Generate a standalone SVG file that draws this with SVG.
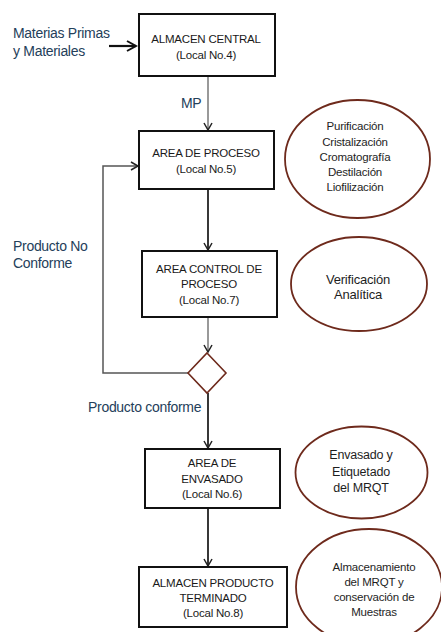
<svg xmlns="http://www.w3.org/2000/svg" width="441" height="632" viewBox="0 0 441 632">
<style>
text{font-family:"Liberation Sans",Arial,sans-serif;}
.box{fill:#fff;stroke:#111;stroke-width:2;}
.bt{font-size:11.5px;fill:#1a1a1a;text-anchor:middle;letter-spacing:-0.2px;}
.ell{fill:#fff;stroke:#6e2a1c;stroke-width:1.8;}
.et{font-size:11.5px;fill:#1e1e1e;text-anchor:middle;letter-spacing:-0.2px;}
.lbl{font-size:14px;fill:#24405a;letter-spacing:-0.3px;}
.cg{fill:none;stroke:#777;stroke-width:1.5;}
.cb{fill:none;stroke:#222;stroke-width:1.8;}
</style>
<defs>
<marker id="ah" markerWidth="10" markerHeight="10" refX="8" refY="5" orient="auto" markerUnits="userSpaceOnUse">
<path d="M1,1 L8,5 L1,9" fill="none" stroke="#222" stroke-width="1.5"/>
</marker>
<marker id="ahb" markerWidth="12" markerHeight="12" refX="10" refY="6" orient="auto" markerUnits="userSpaceOnUse">
<path d="M1,1 L10,6 L1,11" fill="none" stroke="#111" stroke-width="2"/>
</marker>
</defs>
<rect width="441" height="632" fill="#fff"/>

<g id="connectors">
<line x1="109" y1="46" x2="136" y2="46" stroke="#111" stroke-width="2.2" marker-end="url(#ahb)"/>
<line class="cg" x1="208" y1="76" x2="208" y2="130" marker-end="url(#ah)"/>
<line class="cb" x1="208" y1="189" x2="208" y2="250" marker-end="url(#ah)"/>
<line class="cg" x1="208" y1="317" x2="208" y2="352" marker-end="url(#ah)"/>
<line class="cb" x1="208" y1="393" x2="208" y2="448" marker-end="url(#ah)"/>
<line class="cb" x1="208" y1="508" x2="208" y2="566" marker-end="url(#ah)"/>
<polyline class="cg" points="188,373 103,373 103,166 138,166" style="stroke:#555" marker-end="url(#ah)"/>
<text class="lbl" x="181" y="108">MP</text>
<text class="lbl" x="13" y="251">Producto No</text>
<text class="lbl" x="13" y="268">Conforme</text>
<text class="lbl" x="88" y="412">Producto conforme</text>
</g>

<g id="input">
<text class="lbl" x="13" y="38">Materias Primas</text>
<text class="lbl" x="13" y="56">y Materiales</text>
</g>

<g id="almacen-central">
<rect class="box" x="139" y="14" width="136" height="62"/>
<text class="bt" x="206" y="43">ALMACEN CENTRAL</text>
<text class="bt" x="206" y="59">(Local No.4)</text>
</g>

<g id="area-proceso">
<rect class="box" x="139" y="131" width="135" height="58"/>
<text class="bt" x="206" y="157">AREA DE PROCESO</text>
<text class="bt" x="206" y="173">(Local No.5)</text>
</g>

<g id="area-control">
<rect class="box" x="142" y="251" width="135" height="66"/>
<text class="bt" x="209" y="273">AREA CONTROL DE</text>
<text class="bt" x="209" y="288">PROCESO</text>
<text class="bt" x="209" y="304">(Local No.7)</text>
</g>

<g id="decision">
<polygon points="207,353 226,373 207,393 188,373" fill="#fff" stroke="#6e2a1c" stroke-width="1.6"/>
</g>

<g id="area-envasado">
<rect class="box" x="145" y="449" width="135" height="59"/>
<text class="bt" x="212" y="467">AREA DE</text>
<text class="bt" x="212" y="483">ENVASADO</text>
<text class="bt" x="212" y="498">(Local No.6)</text>
</g>

<g id="almacen-producto">
<rect class="box" x="139" y="567" width="148" height="60"/>
<text class="bt" x="213" y="587">ALMACEN PRODUCTO</text>
<text class="bt" x="213" y="602">TERMINADO</text>
<text class="bt" x="213" y="617">(Local No.8)</text>
</g>

<g id="ellipse-proceso">
<ellipse class="ell" cx="357.5" cy="159" rx="72.5" ry="59"/>
<text class="et" x="355" y="130">Purificación</text>
<text class="et" x="355" y="146">Cristalización</text>
<text class="et" x="355" y="161">Cromatografía</text>
<text class="et" x="355" y="176">Destilación</text>
<text class="et" x="355" y="191">Liofilización</text>
</g>

<g id="ellipse-verificacion">
<ellipse class="ell" cx="359" cy="284" rx="68" ry="47"/>
<text class="et" x="358" y="284" style="font-size:13px">Verificación</text>
<text class="et" x="358" y="299" style="font-size:13px">Analítica</text>
</g>

<g id="ellipse-envasado">
<ellipse class="ell" cx="361.5" cy="472.5" rx="66" ry="46"/>
<text class="et" x="361" y="459" style="font-size:12.5px">Envasado y</text>
<text class="et" x="361" y="476" style="font-size:12.5px">Etiquetado</text>
<text class="et" x="361" y="492" style="font-size:12.5px">del MRQT</text>
</g>

<g id="ellipse-almacenamiento">
<ellipse class="ell" cx="369" cy="587" rx="73" ry="58"/>
<text class="et" x="374" y="571">Almacenamiento</text>
<text class="et" x="374" y="586">del MRQT y</text>
<text class="et" x="374" y="601">conservación de</text>
<text class="et" x="374" y="616">Muestras</text>
</g>
</svg>
